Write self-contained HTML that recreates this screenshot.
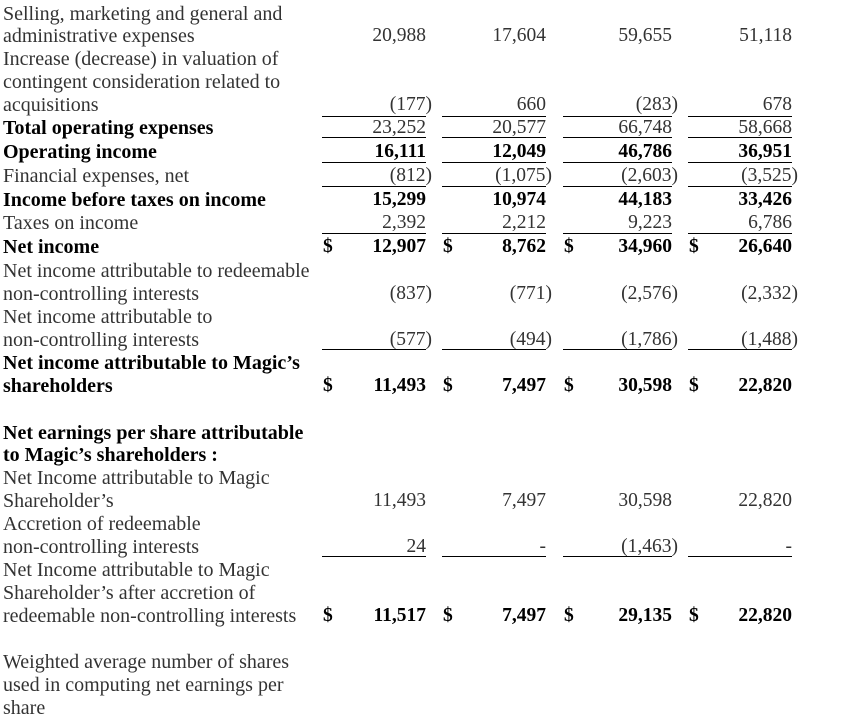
<!DOCTYPE html>
<html><head><meta charset="utf-8"><style>
html,body{margin:0;padding:0;background:#fff;width:841px;height:721px;overflow:hidden;position:relative}
body{font-family:"Liberation Serif",serif;font-size:19.5px;color:#333}
.t{position:absolute;line-height:22px;white-space:nowrap}
.lb{font-size:20px}
.b{font-weight:bold;color:#000}
.r{text-align:right}
.ln{position:absolute;height:1px;background:#000}
</style></head><body>
<script>
var rows=[
[13,"Selling, marketing and general and",0],
[35,"administrative expenses",0,["20,988","17,604","59,655","51,118"]],
[58,"Increase (decrease) in valuation of",0],
[81,"contingent consideration related to",0],
[104,"acquisitions",0,["(177)","660","(283)","678"]],
[127,"Total operating expenses",1,["23,252","20,577","66,748","58,668"],0,0],
[151,"Operating income",1,["16,111","12,049","46,786","36,951"],0,1],
[175,"Financial expenses, net",0,["(812)","(1,075)","(2,603)","(3,525)"]],
[199,"Income before taxes on income",1,["15,299","10,974","44,183","33,426"],0,1],
[222,"Taxes on income",0,["2,392","2,212","9,223","6,786"]],
[246,"Net income",1,["12,907","8,762","34,960","26,640"],1,1],
[270,"Net income attributable to redeemable",0],
[293,"non-controlling interests",0,["(837)","(771)","(2,576)","(2,332)"]],
[316,"Net income attributable to",0],
[339,"non-controlling interests",0,["(577)","(494)","(1,786)","(1,488)"]],
[362,"Net income attributable to Magic\u2019s",1],
[385,"shareholders",1,["11,493","7,497","30,598","22,820"],1,1],
[432,"Net earnings per share attributable",1],
[454,"to Magic\u2019s shareholders :",1],
[477,"Net Income attributable to Magic",0],
[500,"Shareholder\u2019s",0,["11,493","7,497","30,598","22,820"]],
[523,"Accretion of redeemable",0],
[546,"non-controlling interests",0,["24","-","(1,463)","-"]],
[569,"Net Income attributable to Magic",0],
[592,"Shareholder\u2019s after accretion of",0],
[615,"redeemable non-controlling interests",0,["11,517","7,497","29,135","22,820"],1,1],
[661,"Weighted average number of shares",0],
[684,"used in computing net earnings per",0],
[707,"share",0]
];
var cols=[[322,426],[442,546],[563,672],[688,792]];
var h="";
rows.forEach(function(r){
 var top=r[0]-10;
 h+='<div class="t lb'+(r[2]?' b':'')+'" style="left:3px;top:'+top+'px">'+r[1]+'</div>';
 if(r[3]){
  r[3].forEach(function(v,i){
   var c=cols[i],right=c[1];
   if(v.charAt(v.length-1)==')')right+=6;
   var bold=r[5]?' b':'';
   h+='<div class="t r'+bold+'" style="left:'+(right-150)+'px;width:150px;top:'+top+'px">'+v+'</div>';
   if(r[4])h+='<div class="t b" style="left:'+(c[0]+1)+'px;top:'+top+'px">$</div>';
  });
 }
});
[116,137,162,186,233,349,556].forEach(function(y){
 cols.forEach(function(c){h+='<div class="ln" style="left:'+c[0]+'px;width:'+(c[1]-c[0])+'px;top:'+y+'px"></div>';});
});
document.body.innerHTML+=h;
</script>
</body></html>
